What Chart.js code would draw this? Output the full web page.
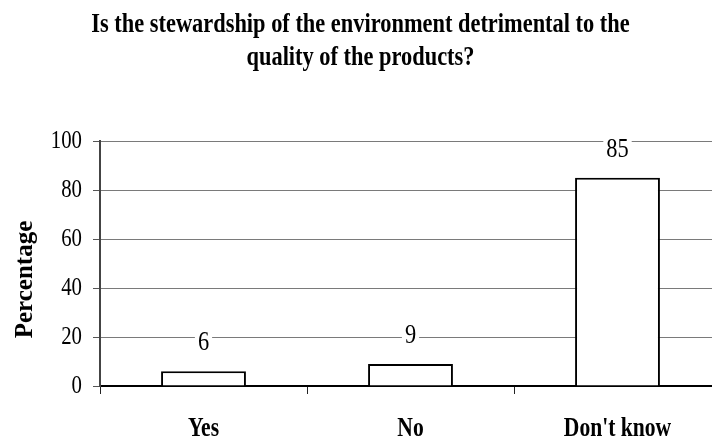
<!DOCTYPE html>
<html>
<head>
<meta charset="utf-8">
<script src="https://cdn.jsdelivr.net/npm/chart.js@4.4.1/dist/chart.umd.min.js"></script>
<style>
  html, body { margin: 0; padding: 0; background: #fff; overflow: hidden; }
  #wrap { width: 712px; height: 441px; overflow: hidden; position: relative; }
</style>
</head>
<body>
<div id="wrap"><canvas id="c" width="724" height="441"></canvas></div>
<script>
const titleLines = ['Is the stewardship of the environment detrimental to the', 'quality of the products?'];
const categories = ['Yes', 'No', "Don't know"];
const percentages = [6, 9, 85];
const yTicks = [0, 20, 40, 60, 80, 100];
const yAxisTitle = 'Percentage';

const SERIF = '"Liberation Serif", "Times New Roman", Times, serif';
const NARROW = 0.8; // horizontal squeeze for the tall, narrow lettering

// Draw all chart lettering slightly condensed
const narrowText = {
  id: 'narrowText',
  beforeInit(chart) {
    const ctx = chart.ctx;
    const plain = ctx.fillText.bind(ctx);
    ctx.plainFillText = plain;
    ctx.fillText = function (text, x, y, maxWidth) {
      ctx.save();
      ctx.translate(x, y);
      ctx.scale(NARROW, 1);
      if (maxWidth === undefined) plain(text, 0, 0);
      else plain(text, 0, 0, maxWidth / NARROW);
      ctx.restore();
    };
  }
};

// Value above each bar on a white patch that breaks the gridline
const valueLabels = {
  id: 'valueLabels',
  afterDatasetsDraw(chart) {
    const ctx = chart.ctx;
    const meta = chart.getDatasetMeta(0);
    const values = chart.data.datasets[0].data;
    ctx.save();
    ctx.font = '28px ' + SERIF;
    ctx.textAlign = 'center';
    ctx.textBaseline = 'middle';
    meta.data.forEach((bar, i) => {
      const text = String(values[i]);
      const w = ctx.measureText(text).width * NARROW;
      const cy = bar.y - 28.5;
      ctx.fillStyle = '#fff';
      ctx.fillRect(bar.x - w / 2 - 3, cy - 11, w + 6, 22);
      ctx.fillStyle = '#000';
      ctx.fillText(text, bar.x, cy);
    });
    ctx.restore();
  }
};

// Rotated axis caption on the left
const sideTitle = {
  id: 'sideTitle',
  afterDraw(chart) {
    const ctx = chart.ctx;
    const a = chart.chartArea;
    ctx.save();
    ctx.translate(26, (a.top + a.bottom) / 2 + 16);
    ctx.rotate(-Math.PI / 2);
    ctx.font = 'bold 25px ' + SERIF;
    ctx.textAlign = 'center';
    ctx.textBaseline = 'middle';
    ctx.fillStyle = '#000';
    ctx.plainFillText(yAxisTitle, 0, 0);
    ctx.restore();
  }
};

new Chart(document.getElementById('c'), {
  type: 'bar',
  data: {
    labels: categories,
    datasets: [{
      data: percentages,
      backgroundColor: '#ffffff',
      borderColor: '#000000',
      borderWidth: 2,
      barPercentage: 0.41,
      categoryPercentage: 1
    }]
  },
  options: {
    responsive: false,
    animation: false,
    devicePixelRatio: 1,
    layout: { padding: { left: 0, right: 3, top: 0, bottom: 0 } },
    plugins: {
      legend: { display: false },
      tooltip: { enabled: false },
      title: {
        display: true,
        text: titleLines,
        color: '#000',
        font: { family: SERIF, size: 28, weight: 'bold', lineHeight: 1.18 },
        padding: { top: 8, bottom: 67 }
      }
    },
    scales: {
      x: {
        afterFit(scale) { scale.height = 55; },
        grid: {
          display: true,
          drawOnChartArea: false,
          drawTicks: true,
          tickLength: 8,
          color: '#222',
          offset: true
        },
        border: { display: true, color: '#000', width: 2 },
        ticks: {
          color: '#000',
          font: { family: SERIF, size: 27, weight: 'bold', lineHeight: 1 },
          padding: 22
        }
      },
      y: {
        min: 0,
        max: 100,
        afterBuildTicks(scale) { scale.ticks = yTicks.map(v => ({ value: v })); },
        afterFit(scale) { scale.width = 100; },
        grid: {
          color: c => (c.tick && c.tick.value === 0) ? '#000' : '#7a7a7a',
          tickLength: 7,
          tickColor: '#555'
        },
        border: { color: '#444', width: 2 },
        ticks: {
          color: '#000',
          font: { family: SERIF, size: 26 },
          padding: 11
        }
      }
    }
  },
  plugins: [narrowText, valueLabels, sideTitle]
});
</script>
</body>
</html>
